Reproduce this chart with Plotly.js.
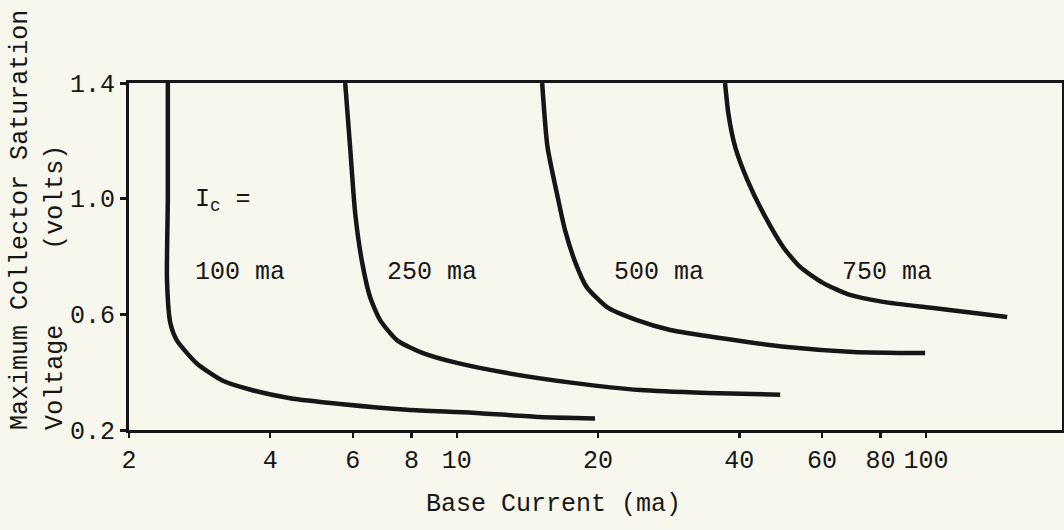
<!DOCTYPE html>
<html>
<head>
<meta charset="utf-8">
<script src="https://cdn.plot.ly/plotly-3.0.1.min.js"></script>
<style>html,body{margin:0;padding:0;background:#f7f7ed;}#chart{width:1064px;height:530px;}</style>
</head>
<body>
<div id="chart"></div>
<script>
// Base current (ma) and max collector saturation voltage (volts)
const ic100_x = [2.42, 2.42, 2.41, 2.45, 2.53, 2.79, 3.17, 3.62, 4.41, 5.64, 7.83, 10.8, 15.0, 19.7];
const ic100_y = [1.40, 1.00, 0.72, 0.57, 0.51, 0.43, 0.37, 0.34, 0.31, 0.29, 0.27, 0.26, 0.245, 0.24];

const ic250_x = [5.78, 5.92, 6.07, 6.28, 6.53, 6.86, 7.46, 8.47, 10.0, 12.8, 17.7, 24.6, 34.2, 48.9];
const ic250_y = [1.40, 1.18, 0.95, 0.78, 0.66, 0.58, 0.51, 0.466, 0.432, 0.397, 0.363, 0.338, 0.328, 0.322];

const ic500_x = [15.2, 15.6, 16.4, 17.0, 17.9, 18.9, 20.9, 24.2, 28.5, 36.4, 50.6, 70.0, 99.6];
const ic500_y = [1.40, 1.18, 1.006, 0.892, 0.778, 0.695, 0.625, 0.580, 0.546, 0.518, 0.487, 0.470, 0.466];

const ic750_x = [37.3, 37.9, 39.2, 41.6, 45.0, 49.6, 53.9, 60.4, 68.9, 81.0, 103.6, 149];
const ic750_y = [1.40, 1.296, 1.179, 1.065, 0.950, 0.833, 0.764, 0.708, 0.667, 0.643, 0.622, 0.591];

const seriesLabels = ['100 ma', '250 ma', '500 ma', '750 ma'];
const xTickVals = [2, 4, 6, 8, 10, 20, 40, 60, 80, 100];
const xTickText = ['2', '4', '6', '8', '10', '20', '40', '60', '80', '100'];
const yTickVals = [0.2, 0.6, 1.0, 1.4];
const yTickText = ['0.2', '0.6', '1.0', '1.4'];

const FONT = 'Liberation Mono, DejaVu Sans Mono, monospace';
const INK = '#161616';

const series = [[ic100_x, ic100_y], [ic250_x, ic250_y], [ic500_x, ic500_y], [ic750_x, ic750_y]];
const traces = series.map((s, i) => ({
  x: s[0], y: s[1], type: 'scatter', mode: 'lines', name: seriesLabels[i],
  line: {color: INK, width: 4.5, shape: 'spline', smoothing: 0.6},
  hoverinfo: 'x+y+name'
}));

// label anchor positions (base current, volts)
const labelPos = [[2.74, 0.746], [7.03, 0.746], [21.4, 0.746], [65.6, 0.746]];
const annotations = seriesLabels.map((t, i) => ({
  x: Math.log10(labelPos[i][0]), y: labelPos[i][1], xref: 'x', yref: 'y',
  text: t, showarrow: false, xanchor: 'left', yanchor: 'middle',
  font: {family: FONT, size: 25, color: INK}
}));
annotations.push({
  x: Math.log10(2.74), y: 0.995, xref: 'x', yref: 'y',
  text: 'I<sub>c</sub> =', showarrow: false, xanchor: 'left', yanchor: 'middle',
  font: {family: FONT, size: 25, color: INK}
});
// y axis title (two lines, bottom-aligned as in the original)
annotations.push({
  x: -0.117, y: -0.006, xref: 'paper', yref: 'paper', textangle: -90,
  text: 'Maximum Collector Saturation', showarrow: false, xanchor: 'center', yanchor: 'bottom',
  font: {family: FONT, size: 25, color: INK}
});
annotations.push({
  x: -0.079, y: -0.006, xref: 'paper', yref: 'paper', textangle: -90,
  text: 'Voltage&nbsp;&nbsp;&nbsp;&nbsp;&nbsp;(volts)', showarrow: false, xanchor: 'center', yanchor: 'bottom',
  font: {family: FONT, size: 25, color: INK}
});
// x axis title
annotations.push({
  x: (553 - 129) / 933, y: -0.216, xref: 'paper', yref: 'paper',
  text: 'Base Current (ma)', showarrow: false, xanchor: 'center', yanchor: 'middle',
  font: {family: FONT, size: 25, color: INK}
});

const layout = {
  width: 1064, height: 530,
  margin: {l: 129, r: 2, t: 83, b: 100, pad: 0},
  paper_bgcolor: '#f7f7ed', plot_bgcolor: '#f7f7ed',
  showlegend: false,
  xaxis: {
    type: 'log', range: [Math.log10(2), Math.log10(195)],
    tickvals: xTickVals, ticktext: xTickText,
    ticks: 'outside', ticklen: 5, tickwidth: 2.5, tickcolor: INK,
    showline: true, linecolor: INK, linewidth: 3, mirror: true,
    showgrid: false, zeroline: false,
    tickfont: {family: FONT, size: 25, color: INK}
  },
  yaxis: {
    range: [0.2, 1.4],
    tickvals: yTickVals, ticktext: yTickText,
    ticks: 'outside', ticklen: 6, tickwidth: 3, tickcolor: INK,
    showline: true, linecolor: INK, linewidth: 3, mirror: true,
    showgrid: false, zeroline: false,
    tickfont: {family: FONT, size: 25, color: INK}
  },
  annotations: annotations
};

Plotly.newPlot('chart', traces, layout, {displayModeBar: false, staticPlot: true});
</script>
</body>
</html>
